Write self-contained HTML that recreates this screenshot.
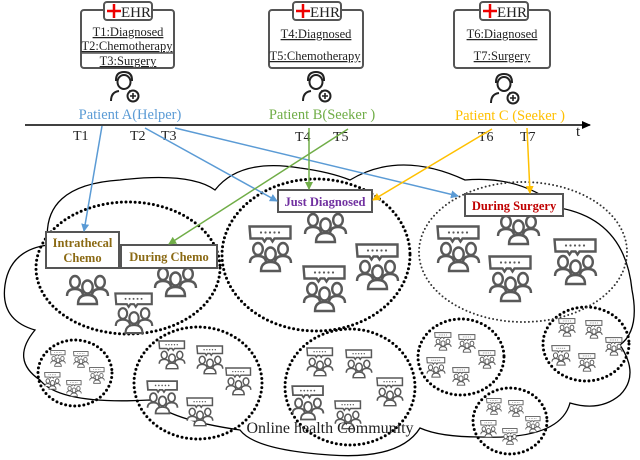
<!DOCTYPE html>
<html><head><meta charset="utf-8"><style>
html,body{margin:0;padding:0;background:#fff}
svg{display:block}
text{font-family:"Liberation Serif",serif}
</style></head><body>
<svg width="640" height="460" viewBox="0 0 640 460" xmlns="http://www.w3.org/2000/svg">
<defs>
<symbol id="g" viewBox="0 0 45 48" overflow="visible">
 <g fill="none" stroke="#595959" stroke-width="2.4">
  <path d="M1.5 1.5h41v12h-16l-2 3-2-3h-4l-2 3-2-3h-12z"/>
  <g fill="#fff">
   <ellipse cx="10" cy="24" rx="4.8" ry="6"/>
   <path d="M2 38q0-7 8-7q8 0 8 7"/>
   <ellipse cx="35" cy="24" rx="4.8" ry="6"/>
   <path d="M27 38q0-7 8-7q8 0 8 7"/>
   <ellipse cx="22.5" cy="29" rx="5.2" ry="6.5"/>
   <path d="M13 46q0-9 9.5-9q9.5 0 9.5 9z"/>
  </g>
 </g>
 <g fill="#595959"><circle cx="13" cy="7.5" r="1.1"/><circle cx="17.5" cy="7.5" r="1.1"/><circle cx="22" cy="7.5" r="1.1"/><circle cx="26.5" cy="7.5" r="1.1"/><circle cx="31" cy="7.5" r="1.1"/></g>
</symbol>
<symbol id="p" viewBox="0 0 45 48" overflow="visible">
 <g fill="#fff" stroke="#595959" stroke-width="2.4">
   <ellipse cx="10" cy="24" rx="4.8" ry="6"/><path d="M2 38q0-7 8-7q8 0 8 7"/>
   <ellipse cx="35" cy="24" rx="4.8" ry="6"/><path d="M27 38q0-7 8-7q8 0 8 7"/>
   <ellipse cx="22.5" cy="29" rx="5.2" ry="6.5"/><path d="M13 46q0-9 9.5-9q9.5 0 9.5 9z"/>
 </g>
</symbol>
<symbol id="doc" viewBox="0 0 30 32" overflow="visible">
 <g fill="none" stroke="#222" stroke-width="2">
  <path d="M6 10q0-8 8-8q8 0 8 8z" fill="#fff"/>
  <ellipse cx="14" cy="12" rx="6.5" ry="7" fill="#fff"/>
  <path d="M1 31q0-9 8-10M19 21q3 1 4 3"/>
  <circle cx="23" cy="26" r="5.5" fill="#fff"/>
  <path d="M23 23v6M20 26h6" stroke-width="1.6"/>
 </g>
</symbol>
<marker id="ab" markerWidth="8" markerHeight="8" refX="7" refY="4" orient="auto" markerUnits="userSpaceOnUse"><path d="M0 0L8 4L0 8z" fill="#5b9bd5"/></marker>
<marker id="ag" markerWidth="8" markerHeight="8" refX="7" refY="4" orient="auto" markerUnits="userSpaceOnUse"><path d="M0 0L8 4L0 8z" fill="#70ad47"/></marker>
<marker id="ao" markerWidth="8" markerHeight="8" refX="7" refY="4" orient="auto" markerUnits="userSpaceOnUse"><path d="M0 0L8 4L0 8z" fill="#ffc000"/></marker>
<marker id="ak" markerWidth="9" markerHeight="8" refX="8" refY="4" orient="auto" markerUnits="userSpaceOnUse"><path d="M0 0L9 4L0 8z" fill="#000"/></marker>
</defs>

<!-- cloud -->
<path d="M48 245 Q40 185 120 180 Q190 172 215 190 Q240 158 300 168 Q330 172 350 180 Q400 150 465 180 Q520 175 560 208 Q625 220 632 290 Q640 330 620 345 Q640 375 620 395 Q600 412 570 403 Q560 440 480 437 Q440 437 420 428 Q400 460 330 455 Q255 450 240 430 Q170 420 150 400 Q60 405 40 380 Q10 360 35 330 Q0 320 5 285 Q10 250 48 245 Z" fill="none" stroke="#000" stroke-width="1.3"/>

<!-- ellipses -->
<g fill="none" stroke="#000" stroke-width="3" stroke-dasharray="0 4.6" stroke-linecap="round">
<ellipse cx="128" cy="268" rx="92" ry="66"/>
<ellipse cx="316" cy="255" rx="94" ry="76"/>
<ellipse cx="461" cy="357" rx="43" ry="38"/>
<ellipse cx="510" cy="421" rx="37" ry="33"/>
<ellipse cx="586" cy="344" rx="43" ry="37"/>
<ellipse cx="75" cy="373" rx="37" ry="33"/>
<ellipse cx="198" cy="383" rx="64" ry="56"/>
<ellipse cx="350" cy="387" rx="65" ry="58"/>
</g>
<ellipse cx="523" cy="252" rx="104" ry="70" fill="none" stroke="#333" stroke-width="2" stroke-dasharray="0 4" stroke-linecap="round"/>

<!-- icons big -->
<use href="#p" x="65" y="258" width="45" height="48"/>
<use href="#p" x="153" y="250" width="45" height="48"/>
<use href="#g" x="114" y="292" width="40" height="43"/>
<use href="#g" x="248" y="225" width="45" height="48"/>
<use href="#p" x="303" y="196" width="45" height="48"/>
<use href="#g" x="355" y="243" width="45" height="48"/>
<use href="#g" x="302" y="265" width="45" height="48"/>
<use href="#g" x="436" y="225" width="45" height="48"/>
<use href="#p" x="496" y="198" width="45" height="48"/>
<use href="#g" x="553" y="238" width="45" height="48"/>
<use href="#g" x="488" y="255" width="45" height="48"/>
<!-- E5 -->
<use href="#g" x="158" y="340" width="28" height="30"/>
<use href="#g" x="196" y="345" width="28" height="30"/>
<use href="#g" x="225" y="367" width="27" height="29"/>
<use href="#g" x="146" y="380" width="33" height="35"/>
<use href="#g" x="186" y="397" width="28" height="30"/>
<!-- E6 -->
<use href="#g" x="306" y="347" width="28" height="30"/>
<use href="#g" x="345" y="349" width="28" height="30"/>
<use href="#g" x="376" y="377" width="28" height="30"/>
<use href="#g" x="291" y="385" width="34" height="36"/>
<use href="#g" x="334" y="400" width="28" height="30"/>
<!-- E4 -->
<use href="#g" x="50" y="350" width="16" height="17"/>
<use href="#g" x="73" y="351" width="16" height="17"/>
<use href="#g" x="89" y="367" width="16" height="17"/>
<use href="#g" x="44" y="372" width="17" height="18"/>
<use href="#g" x="66" y="380" width="16" height="17"/>
<!-- E7 -->
<use href="#g" x="434" y="332" width="18" height="19"/>
<use href="#g" x="458" y="334" width="18" height="19"/>
<use href="#g" x="478" y="350" width="18" height="19"/>
<use href="#g" x="426" y="357" width="20" height="21"/>
<use href="#g" x="452" y="367" width="18" height="19"/>
<!-- E8 -->
<use href="#g" x="486" y="398" width="16" height="17"/>
<use href="#g" x="508" y="400" width="16" height="17"/>
<use href="#g" x="525" y="416" width="16" height="17"/>
<use href="#g" x="480" y="420" width="17" height="18"/>
<use href="#g" x="502" y="428" width="16" height="17"/>
<!-- E9 -->
<use href="#g" x="558" y="318" width="18" height="19"/>
<use href="#g" x="585" y="320" width="18" height="19"/>
<use href="#g" x="605" y="337" width="18" height="19"/>
<use href="#g" x="551" y="345" width="20" height="21"/>
<use href="#g" x="578" y="353" width="18" height="19"/>

<!-- label boxes -->
<g stroke="#555" stroke-width="2" fill="#fff">
<rect x="46" y="232" width="73" height="36"/>
<rect x="121" y="245" width="96" height="23"/>
<rect x="278" y="190" width="94" height="22"/>
<rect x="465" y="194" width="98" height="22"/>
</g>
<g font-weight="bold" font-size="12.5" text-anchor="middle">
<text x="82.5" y="247" fill="#8b6a14">Intrathecal</text>
<text x="82.5" y="262" fill="#8b6a14">Chemo</text>
<text x="169" y="261" fill="#8b6a14">During Chemo</text>
<text x="325" y="206" fill="#7030a0">Just Diagnosed</text>
<text x="514" y="210" fill="#c00000">During Surgery</text>
</g>

<text x="330" y="433" font-size="16" text-anchor="middle" fill="#222">Online health Community</text>

<!-- EHR boxes -->
<g stroke="#555" stroke-width="2" fill="#fff">
<rect x="81" y="10" width="93" height="58" rx="3"/>
<rect x="269" y="10" width="94" height="58" rx="3"/>
<rect x="454" y="10" width="96" height="58" rx="3"/>
<rect x="104" y="2" width="48" height="18" rx="3"/>
<rect x="293" y="2" width="48" height="18" rx="3"/>
<rect x="480" y="2" width="48" height="18" rx="3"/>
</g>
<g stroke="#e00" stroke-width="2.5">
<path d="M107 11h14M114 4v14"/><path d="M296 11h14M303 4v14"/><path d="M483 11h14M490 4v14"/>
</g>
<g font-size="15" fill="#222"><text x="121" y="17">EHR</text><text x="310" y="17">EHR</text><text x="497" y="17">EHR</text></g>
<g font-size="12.5" fill="#222" text-anchor="middle" text-decoration="underline">
<text x="128" y="36">T1:Diagnosed</text>
<text x="127" y="50">T2:Chemotherapy</text>
<text x="128" y="65">T3:Surgery</text>
<text x="316" y="38">T4:Diagnosed</text>
<text x="315" y="60">T5:Chemotherapy</text>
<text x="502" y="38">T6:Diagnosed</text>
<text x="502" y="60">T7:Surgery</text>
</g>
<line x1="81" y1="53" x2="174" y2="53" stroke="#555" stroke-width="1.5"/>
<use href="#doc" x="110" y="70" width="30" height="32"/>
<use href="#doc" x="302" y="70" width="30" height="32"/>
<use href="#doc" x="490" y="72" width="30" height="32"/>

<g font-size="14.5" text-anchor="middle">
<text x="130" y="119" fill="#5b9bd5">Patient A(Helper)</text>
<text x="322" y="119" fill="#70ad47">Patient B(Seeker )</text>
<text x="510" y="120" fill="#ffc000">Patient C (Seeker )</text>
</g>

<line x1="25" y1="125" x2="590" y2="125" stroke="#000" stroke-width="1.5" marker-end="url(#ak)"/>
<g font-size="14" fill="#222">
<text x="73" y="140">T1</text><text x="130" y="140">T2</text><text x="161" y="140">T3</text>
<text x="295" y="141">T4</text><text x="333" y="141">T5</text>
<text x="478" y="141">T6</text><text x="520" y="141">T7</text>
<text x="576" y="136" font-size="15">t</text>
</g>

<!-- arrows -->
<g stroke-width="1.5" fill="none">
<line x1="102" y1="126" x2="84" y2="231" stroke="#5b9bd5" marker-end="url(#ab)"/>
<line x1="145" y1="128" x2="277" y2="201" stroke="#5b9bd5" marker-end="url(#ab)"/>
<line x1="175" y1="128" x2="458" y2="196" stroke="#5b9bd5" marker-end="url(#ab)"/>
<line x1="309" y1="128" x2="309" y2="189" stroke="#70ad47" marker-end="url(#ag)"/>
<line x1="348" y1="129" x2="169" y2="244" stroke="#70ad47" marker-end="url(#ag)"/>
<line x1="492" y1="129" x2="373" y2="200" stroke="#ffc000" marker-end="url(#ao)"/>
<line x1="527" y1="128" x2="530" y2="193" stroke="#ffc000" marker-end="url(#ao)"/>
</g>
</svg>
</body></html>
